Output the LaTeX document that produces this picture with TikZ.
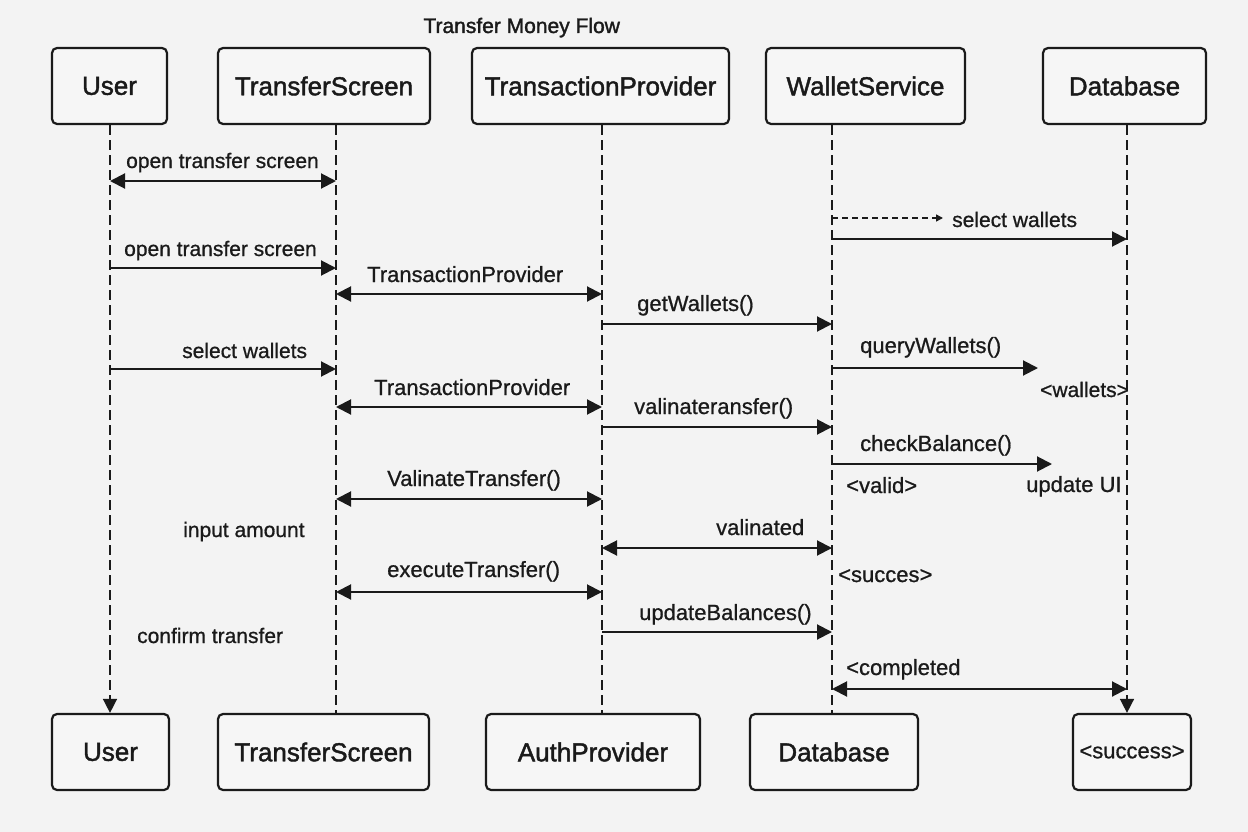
\documentclass[tikz,border=0pt]{standalone}
\usepackage{fontspec}
\setmainfont{Liberation Sans}
\newfontfamily\boxfont[FakeBold=1.6]{Liberation Sans}
\newfontfamily\lblfont[FakeBold=0.8]{Liberation Sans}
\usetikzlibrary{arrows.meta}
\definecolor{bgc}{HTML}{F3F3F3}
\definecolor{ink}{HTML}{1A1A1A}
\definecolor{boxfill}{HTML}{F6F6F6}
\tikzset{
  actor/.style={draw=ink, line width=2.2pt, rounded corners=5pt, fill=boxfill,
    minimum height=76pt, inner sep=0pt, font=\boxfont\fontsize{26}{30}\selectfont, text=ink},
  lifeline/.style={draw=ink, line width=1.5pt, dash pattern=on 10pt off 5pt},
  tipA/.tip={Triangle[length=15pt,width=15pt]},
  msg/.style={draw=ink, line width=2pt, -tipA},
  bimsg/.style={draw=ink, line width=2pt, tipA-tipA},
  lbl/.style={anchor=base west, inner sep=0pt, font=\lblfont\fontsize{22}{26}\selectfont, text=ink},
  slbl/.style={lbl, font=\lblfont\fontsize{21}{25}\selectfont},
}
\begin{document}
\begin{tikzpicture}[x=1pt,y=-1pt]
\fill[bgc] (0,0) rectangle (1248,832);
\useasboundingbox (0,0) rectangle (1248,832);

% title
\node[anchor=base, inner sep=0pt, font=\boxfont\fontsize{21}{25}\selectfont, text=ink] (title) at (521.7,33) {Transfer Money Flow};

% top actors
\node[actor, minimum width=115pt] (userT) at (109.5,86) {User};
\node[actor, minimum width=212pt] (tsT) at (324,86) {TransferScreen};
\node[actor, minimum width=257pt] (tpT) at (600.5,86) {TransactionProvider};
\node[actor, minimum width=199pt] (wsT) at (865.5,86) {WalletService};
\node[actor, minimum width=163pt] (dbT) at (1124.5,86) {Database};

% bottom actors
\node[actor, minimum width=117pt] (userB) at (110.5,752) {User};
\node[actor, minimum width=211pt] (tsB) at (323.5,752) {TransferScreen};
\node[actor, minimum width=214pt] (apB) at (593,752) {AuthProvider};
\node[actor, minimum width=168pt] (dbB) at (834,752) {Database};
\node[actor, minimum width=118pt, font=\lblfont\fontsize{22}{26}\selectfont] (succB) at (1132,752) {<success>};

% lifeline x positions
\coordinate (xU) at (110,0);
\coordinate (xT) at (336,0);
\coordinate (xP) at (602,0);
\coordinate (xW) at (832,0);
\coordinate (xD) at (1127,0);

% lifelines
\draw[lifeline, -{Triangle[length=14pt,width=14pt]}] (xU |- userT.south) -- (xU |- userB.north);
\draw[lifeline] (xT |- tsT.south) -- (xT |- tsB.north);
\draw[lifeline] (xP |- tpT.south) -- (xP |- apB.north);
\draw[lifeline] (xW |- wsT.south) -- (xW |- dbB.north);
\draw[lifeline, -{Triangle[length=14pt,width=14pt]}] (xD |- dbT.south) -- (xD |- succB.north);

% free ends
\coordinate (dashEnd) at (943,218);
\coordinate (qEnd) at (1038,368);
\coordinate (cEnd) at (1052,464);

% messages
\draw[bimsg] (xU |- 0,181) -- (xT |- 0,181);
\draw[msg] (xU |- 0,268) -- (xT |- 0,268);
\draw[bimsg] (xT |- 0,294) -- (xP |- 0,294);
\draw[msg] (xU |- 0,369) -- (xT |- 0,369);
\draw[bimsg] (xT |- 0,407) -- (xP |- 0,407);
\draw[draw=ink, line width=1.5pt, dash pattern=on 6pt off 4pt, -{Triangle[length=7pt,width=7pt]}] (xW |- dashEnd) -- (dashEnd);
\draw[msg] (xW |- 0,239) -- (xD |- 0,239);
\draw[msg] (xP |- 0,324) -- (xW |- 0,324);
\draw[msg] (xW |- qEnd) -- (qEnd);
\draw[msg] (xP |- 0,427) -- (xW |- 0,427);
\draw[msg] (xW |- cEnd) -- (cEnd);
\draw[bimsg] (xT |- 0,499) -- (xP |- 0,499);
\draw[bimsg] (xP |- 0,548) -- (xW |- 0,548);
\draw[bimsg] (xT |- 0,592) -- (xP |- 0,592);
\draw[msg] (xP |- 0,632) -- (xW |- 0,632);
\draw[bimsg] (xW |- 0,689) -- (xD |- 0,689);

% labels
\node[slbl] (l1) at (126,168) {open transfer screen};
\node[slbl] (l2) at (124,256) {open transfer screen};
\node[lbl] (l3) at (367,282) {TransactionProvider};
\node[slbl] (l4) at (182,358) {select wallets};
\node[lbl] (l5) at (374,395) {TransactionProvider};
\node[slbl] (l6) at (952,227) {select wallets};
\node[lbl] (l8) at (637,311) {getWallets()};
\node[lbl] (l9) at (860,353) {queryWallets()};
\node[slbl] (l10) at (1040,397) {<wallets>};
\node[lbl] (l11) at (634,414) {valinateransfer()};
\node[lbl] (l12) at (860,451) {checkBalance()};
\node[lbl] (l13) at (846,493) {<valid>};
\node[lbl] (l14) at (1026,492) {update UI};
\node[lbl] (l15) at (716,535) {valinated};
\node[lbl] (l16) at (838,582) {<succes>};
\node[lbl] (l17) at (639,620) {updateBalances()};
\node[lbl] (l18) at (846,675) {<completed};
\node[lbl] (l20) at (387,486) {ValinateTransfer()};
\node[slbl] (l21) at (183,537) {input amount};
\node[lbl] (l22) at (387,577) {executeTransfer()};
\node[slbl] (l23) at (137,643) {confirm transfer};
\end{tikzpicture}
\end{document}
